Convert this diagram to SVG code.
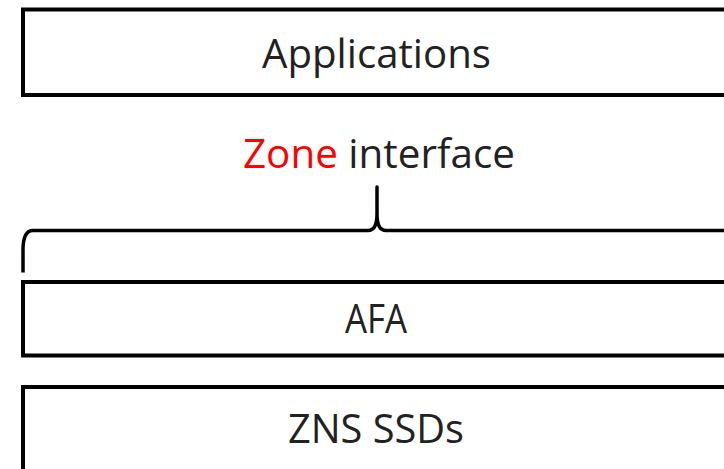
<svg xmlns="http://www.w3.org/2000/svg" width="724" height="469" viewBox="0 0 724 469">
<style>
.box{fill:#fff;stroke:#000;stroke-width:4}
.lbl{font-family:"Open Sans","Liberation Sans",sans-serif;font-size:41px;fill:#222;text-anchor:middle}
.red{fill:#ff0000}
.brace{fill:none;stroke:#000;stroke-width:3.5;stroke-linejoin:round;stroke-linecap:butt}
</style>
<rect width="724" height="469" fill="#fff"/>
<g id="applications">
<rect class="box" x="23" y="9.5" width="710" height="85.5"/>
<text class="lbl" x="376.5" y="68.3" textLength="229" lengthAdjust="spacingAndGlyphs">Applications</text>
</g>
<g id="zone-interface">
<text class="lbl" x="379" y="168.3" textLength="272" lengthAdjust="spacingAndGlyphs"><tspan class="red">Zone</tspan> interface</text>
</g>
<g id="connectors">
<path class="brace" d="M23,272.5 L23,250 Q23,230.5 33,230.5 L368,230.5 Q377,230.5 377,214 L377,187 L377,214 Q377,230.5 386,230.5 L730,230.5"/>
</g>
<g id="afa">
<rect class="box" x="23" y="282" width="710" height="73.5"/>
<text class="lbl" x="376" y="333" textLength="62" lengthAdjust="spacingAndGlyphs">AFA</text>
</g>
<g id="zns-ssds">
<rect class="box" x="23" y="387" width="710" height="100"/>
<text class="lbl" x="376" y="443.3" textLength="176" lengthAdjust="spacingAndGlyphs">ZNS SSDs</text>
</g>
</svg>
